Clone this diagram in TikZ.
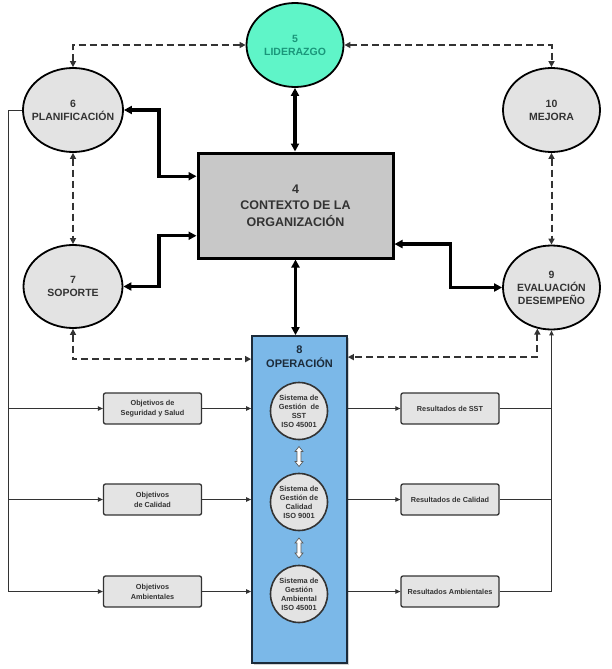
\documentclass[tikz,border=0pt]{standalone}
\usepackage{fontspec}
\setmainfont{Liberation Sans}
\usetikzlibrary{arrows.meta,shapes.geometric,calc,shadows}
\definecolor{ink}{HTML}{333333}
\definecolor{ellgray}{HTML}{E3E3E3}
\definecolor{boxgray}{HTML}{E4E4E4}
\definecolor{ctxgray}{HTML}{C8C8C8}
\definecolor{mint}{HTML}{5FF5C8}
\definecolor{minttext}{HTML}{1A967A}
\definecolor{opblue}{HTML}{7BB8E8}
\definecolor{optext}{HTML}{1C2B3A}
\begin{document}
\begin{tikzpicture}[x=1pt,y=-1pt,
  ell/.style={ellipse, draw=black, line width=1.8pt, fill=ellgray, inner xsep=-10pt, inner ysep=0pt,
    align=center, text=ink, font=\bfseries\fontsize{10.5}{13}\selectfont},
  objbox/.style={rectangle, rounded corners=2pt, draw=ink, line width=1.3pt, fill=boxgray,
    minimum width=98pt, minimum height=31pt, inner sep=1pt, align=center, text=ink,
    font=\bfseries\fontsize{7.3}{10}\selectfont},
  sysc/.style={circle, draw=ink, line width=1.6pt, fill=ellgray, minimum size=57pt, inner sep=-4pt,
    align=center, text=ink, font=\bfseries\fontsize{7.4}{9}\selectfont},
  tk/.style={line width=3.2pt, black, {Triangle[length=8pt,width=8pt]}-{Triangle[length=8pt,width=8pt]}},
  dsh/.style={line width=2pt, ink, dash pattern=on 7pt off 4pt, {Triangle[length=6pt,width=6pt]}-{Triangle[length=6pt,width=6pt]}},
  thinl/.style={line width=1pt, ink},
  tarr/.style={-{Triangle[length=5pt,width=4.5pt]}},
  wdarrow/.pic={\draw[fill=white, draw=gray!70!black, line width=0.7pt]
    (0,-10) -- (4,-5) -- (2,-5) -- (2,5) -- (4,5) -- (0,10) -- (-4,5) -- (-2,5) -- (-2,-5) -- (-4,-5) -- cycle;}
]
\useasboundingbox (0,0) rectangle (611,669);

% main nodes
\node[ell, fill=mint, text=minttext, minimum width=97pt, minimum height=84pt] (lid) at (295,45) {5\\LIDERAZGO};
\node[ell, minimum width=100pt, minimum height=84pt] (plan) at (73,110) {6\\PLANIFICACIÓN};
\node[ell, minimum width=99pt, minimum height=83pt] (sop) at (73,286.5) {7\\SOPORTE};
\node[ell, minimum width=97pt, minimum height=84pt] (mej) at (551.5,110) {10\\MEJORA};
\node[ell, minimum width=97pt, minimum height=84pt] (eva) at (551.5,287.5) {9\\EVALUACIÓN\\DESEMPEÑO};
\node[rectangle, draw=black, line width=3pt, fill=ctxgray, minimum width=195pt, minimum height=105pt,
  align=center, text=ink, font=\bfseries\fontsize{12.5}{16.5}\selectfont] (ctx) at (295.5,205.5)
  {4\\CONTEXTO DE LA\\ORGANIZACIÓN};
\node[rectangle, draw=optext, line width=1.8pt, fill=opblue, minimum width=95pt, minimum height=327pt,
  drop shadow={shadow xshift=1.5pt, shadow yshift=-1.5pt, opacity=0.35}] (op) at (299.5,499.5) {};
\node[align=center, text=optext, font=\bfseries\fontsize{11}{14}\selectfont] (oplbl) at (299.5,357) {8\\OPERACIÓN};

\node[sysc] (c1) at (299,411) {Sistema de\\Gestión\ \ de\\SST\\ISO 45001};
\node[sysc] (c2) at (299,502) {Sistema de\\Gestión de\\Calidad\\ISO 9001};
\node[sysc] (c3) at (299,594) {Sistema de\\Gestión\\Ambiental\\ISO 45001};
\pic at ($(c1.south)!0.5!(c2.north)$) {wdarrow};
\pic at ($(c2.south)!0.5!(c3.north)$) {wdarrow};

\node[objbox] (ob1) at (152.5,408.5) {Objetivos de\\Seguridad y Salud};
\node[objbox] (ob2) at (152.5,499.5) {Objetivos\\de Calidad};
\node[objbox] (ob3) at (152.5,591.5) {Objetivos\\Ambientales};
\node[objbox] (r1) at (450,408.5) {Resultados de SST};
\node[objbox] (r2) at (450,499.5) {Resultados de Calidad};
\node[objbox] (r3) at (450,591.5) {Resultados Ambientales};

% thick connectors
\draw[tk] (lid.south) -- (lid.south |- ctx.north);
\draw[tk] (ctx.south) -- (ctx.south |- op.north);
\draw[tk] (plan.east) -- ++(35,0) |- ($(ctx.north west)!0.229!(ctx.south west)$);
\draw[tk] (sop.east) -- ++(35.5,0) |- ($(ctx.north west)!0.78!(ctx.south west)$);
\draw[tk] ($(ctx.north east)!0.857!(ctx.south east)$) -- ++(56,0) |- (eva.west);

% dashed connectors
\draw[dsh] (plan.north) |- (lid.west);
\draw[dsh] (lid.east) -| (mej.north);
\draw[dsh] (plan.south) -- (sop.north);
\draw[dsh] (mej.south) -- (eva.north);
\draw[dsh] (sop.south) |- ($(op.north west)+(0,24)$);
\draw[dsh] (eva.251.5) |- ($(op.north east)+(0,22)$);

% thin connectors
\coordinate (trunkL) at (8,0);
\coordinate (trunkR) at (552,0);
\draw[thinl, tarr] (plan.west) -- (plan.west -| trunkL) |- (ob3.west);
\draw[thinl, tarr] (ob1.west -| trunkL) -- (ob1.west);
\draw[thinl, tarr] (ob2.west -| trunkL) -- (ob2.west);
\draw[thinl, tarr] (ob1.east) -- (ob1.east -| op.west);
\draw[thinl, tarr] (ob2.east) -- (ob2.east -| op.west);
\draw[thinl, tarr] (ob3.east) -- (ob3.east -| op.west);
\draw[thinl, tarr] (op.east |- r1.west) -- (r1.west);
\draw[thinl, tarr] (op.east |- r2.west) -- (r2.west);
\draw[thinl, tarr] (op.east |- r3.west) -- (r3.west);
\draw[thinl] (r1.east) -- (r1.east -| trunkR);
\draw[thinl] (r2.east) -- (r2.east -| trunkR);
\draw[thinl, tarr] (r3.east) -| (eva.south);
\end{tikzpicture}
\end{document}
